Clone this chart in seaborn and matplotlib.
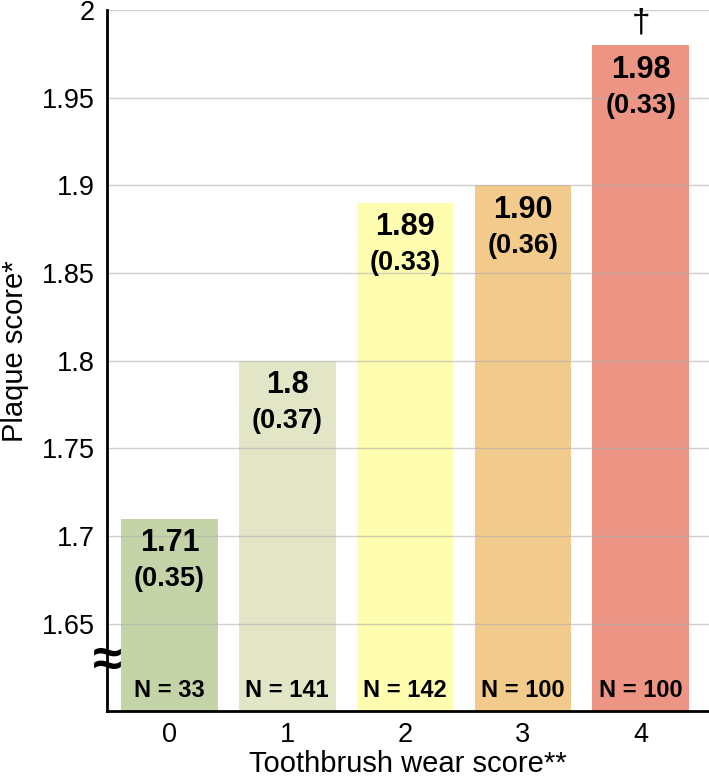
import matplotlib
matplotlib.use('Agg')
import matplotlib.pyplot as plt
import seaborn as sns
import pandas as pd

wear = ['0', '1', '2', '3', '4']
plaque = [1.71, 1.80, 1.89, 1.90, 1.98]
value_labels = ['1.71', '1.8', '1.89', '1.90', '1.98']
sd_labels = ['(0.35)', '(0.37)', '(0.33)', '(0.36)', '(0.33)']
n_labels = ['N = 33', 'N = 141', 'N = 142', 'N = 100', 'N = 100']
colors = ['#c5d4a8', '#e3e6c6', '#fefdb0', '#f2cb8c', '#ec9585']
yticks = [1.65, 1.7, 1.75, 1.8, 1.85, 1.9, 1.95, 2.0]
ytick_labels = ['1.65', '1.7', '1.75', '1.8', '1.85', '1.9', '1.95', '2']

df = pd.DataFrame({'wear': wear, 'plaque': plaque})

sns.set_style('white')
plt.rcParams['font.family'] = ['Liberation Sans', 'DejaVu Sans']
plt.rcParams['text.color'] = 'black'
plt.rcParams['axes.labelcolor'] = 'black'
plt.rcParams['xtick.color'] = 'black'
plt.rcParams['ytick.color'] = 'black'

fig = plt.figure(figsize=(7.09, 7.8), dpi=100)
ax = fig.add_axes([0.151, 0.088, 0.849, 0.899])

sns.barplot(data=df, x='wear', y='plaque', hue='wear', palette=colors,
            legend=False, width=0.82, saturation=1, linewidth=0, ax=ax)

ax.set_ylim(1.6, 2.0)
ax.set_xlim(-0.53, 4.58)
ax.set_yticks(yticks)
ax.set_yticklabels(ytick_labels)

# light grid lines drawn over the bars, as in the original
for t in yticks:
    ax.axhline(t, color='#b0b0b0', linewidth=1, alpha=0.6, zorder=3)

ax.spines['top'].set_visible(False)
ax.spines['right'].set_visible(False)
for s in ['left', 'bottom']:
    ax.spines[s].set_linewidth(2)
    ax.spines[s].set_color('black')
    ax.spines[s].set_zorder(4)
ax.tick_params(axis='y', labelsize=19.5, length=0, pad=9)
ax.tick_params(axis='x', labelsize=19.5, length=0, pad=8)

ax.set_xlabel('Toothbrush wear score**', fontsize=21, labelpad=1)
ax.set_ylabel('Plaque score*', fontsize=21)
ax.yaxis.set_label_coords(-0.13, 0.513)

for i, v in enumerate(plaque):
    ax.annotate(value_labels[i], (i, v), xytext=(0, -17.5), textcoords='offset points',
                ha='center', va='center', fontsize=22, fontweight='bold', zorder=5)
    ax.annotate(sd_labels[i], (i, v), xytext=(0, -43.5), textcoords='offset points',
                ha='center', va='center', fontsize=19.5, fontweight='bold', zorder=5)
    ax.annotate(n_labels[i], (i, 1.6), xytext=(0, 15), textcoords='offset points',
                ha='center', va='center', fontsize=17, fontweight='bold', zorder=5)

ax.annotate('\u2020', (4, plaque[4]), xytext=(0, 5), textcoords='offset points',
            ha='center', va='bottom', fontsize=24, zorder=5)

# axis break mark on the y axis
ax.text(-0.53, 1.628, '\u2248', ha='center', va='center',
        fontsize=38, fontweight='bold', zorder=6, clip_on=False)

fig.savefig('out.png', dpi=100)
